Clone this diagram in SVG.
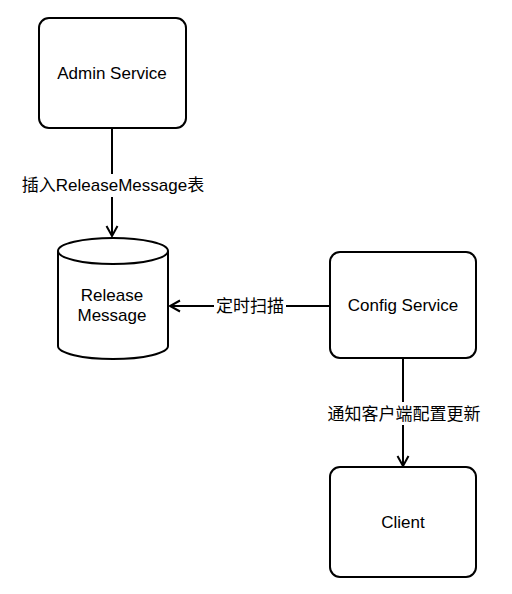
<svg xmlns="http://www.w3.org/2000/svg" width="512" height="594" viewBox="0 0 512 594">
<style>
.box{fill:#fff;stroke:#000;stroke-width:2}
.edge{fill:none;stroke:#000;stroke-width:2}
.lbl-bg{fill:#fff;stroke:none}
text{font-family:"Liberation Sans","Noto Sans CJK SC",sans-serif;font-size:17px;fill:#000;text-anchor:middle}
</style>
<defs>
<marker id="arr" markerUnits="userSpaceOnUse" markerWidth="14" markerHeight="14" viewBox="-12 -7 14 14" refX="0" refY="0" orient="auto">
<path d="M-10,-5.5 L0,0 L-10,5.5" fill="none" stroke="#000" stroke-width="2"/>
</marker>
</defs>
<rect width="512" height="594" fill="#fff"/>
<g id="connectors">
<line class="edge" x1="112" y1="128" x2="112" y2="236" marker-end="url(#arr)"/>
<rect class="lbl-bg" x="20" y="174" width="188" height="23"/>
<text x="113" y="191">插入ReleaseMessage表</text>
<line class="edge" x1="330" y1="306" x2="170" y2="306" marker-end="url(#arr)"/>
<rect class="lbl-bg" x="214" y="294" width="72" height="23"/>
<text x="250" y="312">定时扫描</text>
<line class="edge" x1="403" y1="358" x2="403" y2="466" marker-end="url(#arr)"/>
<rect class="lbl-bg" x="325" y="402" width="158" height="23"/>
<text x="404" y="420">通知客户端配置更新</text>
</g>
<g id="admin-service">
<rect class="box" x="39" y="18" width="147" height="110" rx="10"/>
<text x="112" y="79">Admin Service</text>
</g>
<g id="release-message">
<path class="box" d="M58,251 A55,13 0 0 1 168,251 V346 A55,13 0 0 1 58,346 Z"/>
<path class="edge" d="M58,251 A55,13 0 0 0 168,251"/>
<text x="112" y="301">Release</text>
<text x="112" y="321">Message</text>
</g>
<g id="config-service">
<rect class="box" x="330" y="252" width="146" height="106" rx="10"/>
<text x="403" y="311">Config Service</text>
</g>
<g id="client">
<rect class="box" x="330" y="467" width="146" height="110" rx="10"/>
<text x="403" y="528">Client</text>
</g>
</svg>
